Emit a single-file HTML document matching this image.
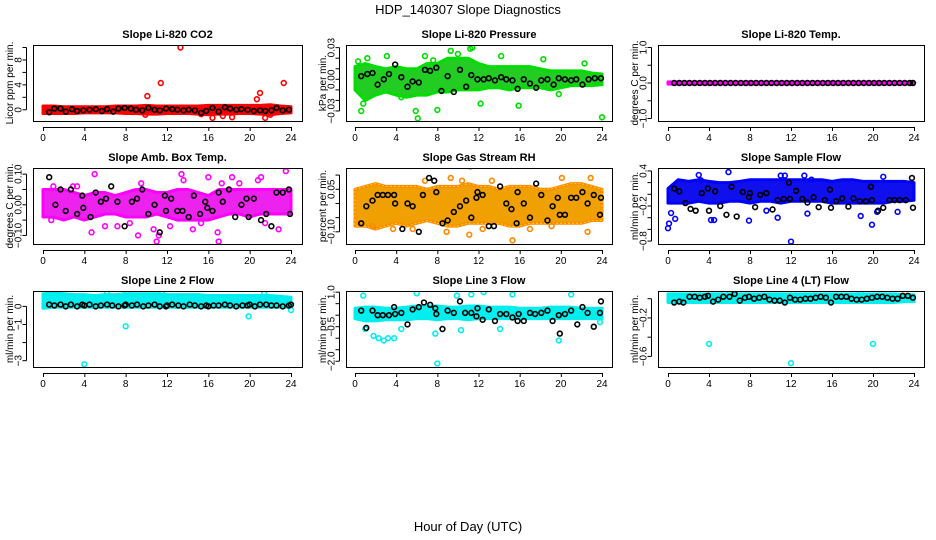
<!DOCTYPE html>
<html><head><meta charset="utf-8"><title>HDP_140307 Slope Diagnostics</title>
<style>
body{margin:0;background:#fff;}
svg{display:block;font-family:"Liberation Sans",sans-serif;}
</style></head>
<body>
<svg id="chart" width="936" height="540" viewBox="0 0 936 540" xmlns="http://www.w3.org/2000/svg">
<rect x="0" y="0" width="936" height="540" fill="#fff"/>
<text x="468" y="14" text-anchor="middle" font-size="13">HDP_140307  Slope Diagnostics</text>
<text x="468" y="531" text-anchor="middle" font-size="13">Hour of Day (UTC)</text>
<g id="panels"></g>
</svg>
<script>
// x ticks shared
const xTicks = [0,4,8,12,16,20,24];
const hours = [0,1,2,3,4,5,6,7,8,9,10,11,12,13,14,15,16,17,18,19,20,21,22,23,24];

// ---- Panel 1: CO2 ----
const co2Upper = [0.6,0.6,0.5,0.5,0.5,0.5,0.5,0.6,0.6,0.6,0.7,0.6,0.6,0.6,0.6,0.6,0.7,0.7,0.7,0.7,0.7,0.7,0.8,0.6,0.5];
const co2Lower = [-0.6,-0.6,-0.6,-0.6,-0.5,-0.5,-0.5,-0.5,-0.6,-0.6,-0.7,-0.7,-0.6,-0.6,-0.6,-0.7,-0.8,-0.7,-0.7,-0.6,-0.6,-0.7,-0.8,-0.6,-0.5];
const co2OutX = [10.1,11.4,13.3,16.4,17.4,18.3,20.7,21.0,21.5,23.3,22.0,9.9,15.3];
const co2OutY = [2.2,4.3,10.0,-1.3,-1.0,-1.2,1.7,2.7,-1.3,4.3,-0.8,-0.8,-0.7];
const co2BlkX = [0.6,1.1,1.7,2.2,2.8,3.3,3.9,4.5,5.1,5.7,6.2,6.8,7.3,7.9,8.5,9.0,9.6,10.2,10.8,11.3,11.9,12.5,13.0,13.6,14.1,14.7,15.3,15.8,16.4,17.0,17.6,18.1,18.7,19.2,19.8,20.4,21.0,21.5,22.1,22.6,23.2,23.8];
const co2BlkY = [-0.4,0.2,0.2,-0.3,0.1,-0.2,-0.1,0.0,0.1,-0.2,0.1,-0.3,0.2,0.3,0.2,0.0,-0.1,0.3,0.0,-0.1,0.2,0.1,0.0,-0.1,0.0,-0.1,-0.5,-0.2,0.3,-0.3,0.4,0.2,0.0,0.1,0.0,-0.2,-0.1,-0.2,-0.1,0.3,-0.1,0.0];

// ---- Panel 2: Pressure ----
const presUpper = [0.012,0.015,0.012,0.010,0.012,0.010,0.010,0.015,0.015,0.020,0.020,0.020,0.015,0.012,0.012,0.012,0.012,0.012,0.010,0.008,0.008,0.008,0.008,0.006,0.005];
const presLower = [-0.010,-0.020,-0.015,-0.012,-0.015,-0.017,-0.015,-0.015,-0.012,-0.012,-0.010,-0.010,-0.010,-0.008,-0.008,-0.010,-0.008,-0.008,-0.008,-0.010,-0.008,-0.006,-0.006,-0.006,-0.005];
const presOutX = [0.6,0.8,5.9,6.1,8.0,12.2,15.9,24.0,9.3,11.2,11.4,14.2,6.8,3.1,1.2,22.3,18.3,10.0,7.6,0.3,4.5,19.8];
const presOutY = [-0.030,-0.023,-0.030,-0.037,-0.029,-0.023,-0.025,-0.036,0.027,0.029,0.030,0.022,0.022,0.022,0.020,0.015,0.019,0.024,0.018,0.017,-0.017,-0.014];
const presBlkX = [0.6,1.2,1.7,2.2,2.8,3.3,3.9,4.5,5.1,5.6,6.2,6.8,7.3,7.9,8.4,9.0,9.6,10.2,10.8,11.3,11.9,12.5,13.0,13.6,14.2,14.7,15.3,15.8,16.4,17.0,17.6,18.1,18.7,19.3,19.8,20.4,21.0,21.5,22.1,22.7,23.3,23.9];
const presBlkY = [0.003,0.005,0.006,-0.005,0.000,0.005,0.014,0.002,-0.007,-0.002,-0.003,0.009,0.008,0.011,-0.011,0.003,-0.012,0.009,-0.007,0.004,0.000,0.000,0.001,-0.001,0.002,0.000,-0.001,-0.009,0.000,-0.004,-0.008,-0.001,0.000,-0.005,0.001,0.000,-0.001,0.000,-0.005,0.000,0.001,0.001];

// ---- Panel 3: Li-820 Temp ----
const tempUpper = [0.03,0.03,0.03,0.03,0.03,0.03,0.03,0.03,0.03,0.03,0.03,0.03,0.03,0.03,0.03,0.03,0.03,0.03,0.03,0.03,0.03,0.03,0.03,0.03,0.03];
const tempLower = [-0.03,-0.03,-0.03,-0.03,-0.03,-0.03,-0.03,-0.03,-0.03,-0.03,-0.03,-0.03,-0.03,-0.03,-0.03,-0.03,-0.03,-0.03,-0.03,-0.03,-0.03,-0.03,-0.03,-0.03,-0.03];
const tempOutX = [];
const tempOutY = [];
const tempBlkX = [0.6,1.1,1.6,2.1,2.6,3.1,3.6,4.1,4.6,5.1,5.6,6.1,6.6,7.1,7.6,8.1,8.6,9.1,9.6,10.1,10.6,11.1,11.6,12.1,12.6,13.1,13.6,14.1,14.6,15.1,15.6,16.1,16.6,17.1,17.6,18.1,18.6,19.1,19.6,20.1,20.6,21.1,21.6,22.1,22.6,23.1,23.6,23.9];
const tempBlkY = [0,0,0,0,0,0,0,0,0,0,0,0,0,0,0,0,0,0,0,0,0,0,0,0,0,0,0,0,0,0,0,0,0,0,0,0,0,0,0,0,0,0,0,0,0,0,0,0];

// ---- Panel 4: Amb Box Temp ----
const ambUpper = [0.05,0.05,0.05,0.04,0.03,0.04,0.04,0.03,0.04,0.05,0.05,0.04,0.04,0.05,0.05,0.04,0.03,0.05,0.05,0.05,0.05,0.05,0.05,0.05,0.05];
const ambLower = [-0.04,-0.04,-0.05,-0.04,-0.05,-0.04,-0.03,-0.03,-0.04,-0.04,-0.04,-0.03,-0.04,-0.05,-0.05,-0.05,-0.05,-0.04,-0.03,-0.03,-0.04,-0.03,-0.03,-0.03,-0.03];
const ambOutX = [5.0,4.7,9.2,10.7,11.2,11.0,13.4,13.6,16.0,16.9,17.0,18.3,19.0,21.1,21.5,22.8,23.5,0.8,3.3,6.0,8.4,14.5,15.3,2.9,12.3,17.3,20.8,1.0,7.2,9.5];
const ambOutY = [0.10,-0.09,-0.10,-0.08,-0.10,-0.12,0.10,0.08,0.09,-0.09,-0.12,0.09,0.07,0.09,-0.06,-0.08,0.11,-0.05,0.06,-0.07,-0.06,-0.08,-0.06,0.06,-0.07,0.07,0.08,0.06,-0.07,0.07];
const ambBlkX = [0.6,1.2,1.7,2.2,2.7,3.3,3.8,3.9,4.6,5.1,5.6,6.1,6.6,7.2,7.9,8.6,9.1,9.6,10.2,10.8,11.3,11.8,11.9,12.4,13.0,13.5,14.1,14.6,15.2,15.7,15.9,16.4,17.0,17.4,18.0,18.6,19.2,19.7,19.9,20.4,21.1,21.6,22.1,22.6,23.2,23.8,23.9];
const ambBlkY = [0.09,0.00,0.05,-0.02,0.05,-0.03,0.03,-0.01,-0.04,0.04,0.01,0.02,0.06,0.01,-0.07,0.01,0.02,0.05,-0.03,0.00,-0.09,0.03,-0.02,0.02,-0.02,-0.02,-0.04,0.03,-0.03,0.01,-0.01,-0.02,0.04,0.01,0.05,-0.04,0.00,0.02,-0.04,0.02,-0.05,-0.03,-0.07,0.04,0.04,0.05,-0.03];

// ---- Panel 5: Gas Stream RH ----
const rhUpper = [0.05,0.06,0.07,0.06,0.06,0.06,0.06,0.05,0.06,0.06,0.06,0.07,0.06,0.06,0.05,0.06,0.06,0.06,0.05,0.05,0.06,0.07,0.07,0.06,0.05];
const rhLower = [-0.08,-0.08,-0.09,-0.08,-0.07,-0.08,-0.07,-0.06,-0.07,-0.08,-0.08,-0.07,-0.07,-0.07,-0.07,-0.08,-0.08,-0.07,-0.07,-0.07,-0.07,-0.07,-0.07,-0.06,-0.06];
const rhOutX = [11.2,15.3,9.3,10.4,13.3,22.9,17.0,22.6,3.7,1.7,5.6,8.9,12.4,19.1,20.1,6.8,11.1];
const rhOutY = [0.13,-0.13,0.09,0.08,0.08,0.09,-0.09,-0.10,-0.09,-0.08,-0.09,-0.10,-0.09,-0.08,0.09,0.08,-0.11];
const rhBlkX = [0.6,1.1,1.7,2.2,2.7,3.2,3.8,3.9,4.6,5.1,5.6,6.2,6.6,7.2,7.7,7.9,8.5,9.0,9.6,10.2,10.8,11.3,11.8,11.9,12.4,13.0,13.5,14.1,14.7,15.2,15.7,15.8,16.4,17.0,17.6,18.1,18.7,19.2,19.7,19.9,20.4,21.0,21.5,22.1,22.6,23.2,23.8,23.9];
const rhBlkY = [-0.07,-0.01,0.01,0.03,0.03,0.03,0.03,0.00,-0.09,0.00,-0.01,-0.10,0.03,0.09,0.08,0.04,-0.07,-0.06,-0.03,-0.01,0.01,-0.05,0.02,0.04,0.03,-0.08,-0.08,0.06,0.00,-0.02,-0.07,0.04,0.00,-0.05,0.07,0.03,-0.06,-0.01,0.02,-0.04,-0.04,0.02,0.02,0.04,0.00,0.03,-0.04,0.02];

// ---- Panel 6: Sample Flow ----
const sfUpper = [0.10,0.25,0.22,0.25,0.22,0.20,0.20,0.22,0.25,0.25,0.25,0.25,0.25,0.25,0.25,0.25,0.22,0.25,0.25,0.22,0.22,0.22,0.22,0.22,0.20];
const sfLower = [-0.15,-0.15,-0.15,-0.12,-0.15,-0.15,-0.12,-0.12,-0.15,-0.12,-0.12,-0.15,-0.12,-0.12,-0.12,-0.12,-0.15,-0.15,-0.15,-0.15,-0.15,-0.15,-0.12,-0.12,-0.10];
const sfOutX = [0.0,0.1,0.3,0.7,3.0,5.9,4.2,4.5,12.0,19.9,18.8,9.6,7.9,3.2,11.0,13.3,21.0,13.6,20.4,10.7,11.4,14.0,22.4];
const sfOutY = [-0.58,-0.50,-0.32,-0.42,0.33,0.38,-0.44,-0.44,-0.81,-0.52,-0.37,-0.28,-0.45,0.24,0.32,0.32,0.30,-0.33,-0.30,-0.40,0.32,0.25,-0.30];
const sfBlkX = [0.6,1.1,1.7,2.2,2.7,3.3,3.9,4.0,4.6,5.1,5.7,6.2,6.7,7.3,7.9,8.0,8.5,9.0,9.6,10.2,10.7,11.3,11.8,11.9,12.5,13.1,13.6,14.2,14.7,15.3,15.8,15.9,16.4,17.0,17.6,18.1,18.7,19.3,19.8,19.9,20.5,21.0,21.6,22.1,22.6,23.2,23.8,23.9];
const sfBlkY = [0.10,0.05,-0.15,-0.25,-0.28,0.02,0.10,-0.28,0.05,-0.20,-0.35,0.13,-0.38,0.04,-0.05,0.02,-0.22,-0.01,0.02,-0.26,-0.10,-0.08,0.20,-0.08,0.06,-0.08,-0.14,-0.05,-0.22,-0.10,0.08,-0.23,-0.12,-0.07,-0.21,-0.07,-0.12,-0.12,0.13,-0.10,-0.28,-0.23,-0.10,-0.10,-0.10,-0.10,0.28,-0.23];

// ---- Panel 7: Line 2 Flow ----
const l2Upper = [0.70,0.75,0.70,0.65,0.65,0.60,0.65,0.65,0.70,0.70,0.70,0.70,0.65,0.65,0.65,0.65,0.60,0.60,0.60,0.60,0.60,0.60,0.60,0.55,0.50];
const l2Lower = [-0.10,-0.05,-0.05,-0.05,-0.05,-0.05,-0.05,-0.05,-0.05,-0.05,-0.05,-0.05,-0.05,-0.05,-0.05,-0.05,-0.05,-0.05,-0.05,-0.05,-0.05,-0.05,-0.05,-0.05,-0.05];
const l2OutX = [4.0,8.0,19.9,24.0,8.1,11.5,6.2,21.4];
const l2OutY = [-3.2,-1.1,-0.55,-0.2,0.75,0.80,0.72,0.72];
const l2BlkX = [0.6,1.1,1.7,2.2,2.7,3.3,3.8,4.0,4.5,5.1,5.6,6.2,6.7,7.3,7.9,8.0,8.6,9.1,9.7,10.2,10.8,11.3,11.9,12.0,12.5,13.1,13.6,14.2,14.7,15.3,15.8,16.0,16.5,17.0,17.6,18.1,18.7,19.3,19.8,20.0,20.5,21.0,21.6,22.1,22.6,23.2,23.8,24.0];
const l2BlkY = [0.10,0.05,0.10,0.00,0.10,0.00,0.10,0.05,0.10,0.00,0.05,0.10,0.05,0.00,0.05,0.10,0.05,0.10,0.00,0.05,0.10,0.00,0.00,0.05,0.10,0.05,0.00,0.10,0.05,0.00,0.05,0.00,0.05,0.05,0.10,0.05,0.00,0.05,0.05,0.10,0.00,0.10,0.10,0.05,0.05,0.00,0.05,0.10];

// ---- Panel 8: Line 3 Flow ----
const l3Upper = [0.30,0.35,0.35,0.30,0.30,0.35,0.40,0.40,0.40,0.35,0.35,0.40,0.40,0.35,0.35,0.35,0.30,0.30,0.30,0.35,0.35,0.35,0.30,0.30,0.30];
const l3Lower = [-0.15,-0.25,-0.25,-0.20,-0.20,-0.20,-0.15,-0.15,-0.20,-0.15,-0.15,-0.20,-0.15,-0.15,-0.15,-0.15,-0.15,-0.15,-0.15,-0.15,-0.15,-0.15,-0.15,-0.15,-0.15];
const l3OutX = [8.0,0.8,2.8,3.2,3.8,1.0,1.8,2.3,7.8,9.9,11.3,12.5,15.3,21.0,23.8,19.8,14.1,10.3,6.0,4.5];
const l3OutY = [-2.1,0.85,-1.1,-1.0,-1.0,-0.6,-0.9,-1.0,-0.8,0.85,0.90,1.00,0.90,0.90,-0.3,-1.1,-0.6,-0.65,0.95,-0.6];
const l3BlkX = [0.6,1.1,1.7,2.2,2.7,3.3,3.8,3.9,4.5,5.1,5.6,6.2,6.7,7.3,7.8,7.9,8.5,9.0,9.6,10.2,10.7,11.3,11.8,11.9,12.4,13.0,13.6,14.1,14.7,15.3,15.8,15.9,16.4,17.0,17.5,18.1,18.7,19.2,19.8,19.9,20.4,21.0,21.6,22.1,22.6,23.2,23.8,23.9];
const l3BlkY = [0.20,-0.55,0.20,0.00,0.00,0.00,0.35,0.05,0.10,-0.40,0.25,0.35,0.55,0.45,0.30,0.05,-0.60,0.20,0.10,0.60,0.10,0.10,-0.05,0.30,-0.20,0.25,-0.25,0.05,0.05,-0.10,-0.25,0.05,-0.25,0.10,0.05,0.10,0.20,-0.25,0.00,-0.80,0.05,0.20,-0.40,0.35,0.10,-0.50,0.10,0.60];

// ---- Panel 9: Line 4 (LT) Flow ----
const l4Upper = [0.05,0.05,0.05,0.05,0.05,0.05,0.05,0.05,0.05,0.05,0.05,0.05,0.05,0.05,0.05,0.05,0.05,0.05,0.05,0.05,0.05,0.05,0.05,0.04,0.04];
const l4Lower = [-0.04,-0.04,-0.04,-0.04,-0.04,-0.04,-0.04,-0.04,-0.04,-0.04,-0.04,-0.04,-0.04,-0.04,-0.04,-0.04,-0.04,-0.04,-0.04,-0.04,-0.04,-0.04,-0.04,-0.03,-0.03];
const l4OutX = [4.0,20.0,12.0,6.0,18.8];
const l4OutY = [-0.47,-0.47,-0.67,0.06,0.06];
const l4BlkX = [0.6,1.1,1.5,2.1,2.6,3.1,3.6,3.9,4.4,4.9,5.4,6.0,6.5,7.0,7.5,7.9,8.4,8.9,9.4,9.9,10.4,10.9,11.4,11.9,12.4,12.9,13.4,13.9,14.4,14.9,15.4,15.9,16.4,16.9,17.4,17.9,18.4,18.9,19.4,19.9,20.4,20.9,21.4,21.9,22.4,22.9,23.4,23.9];
const l4BlkY = [-0.04,-0.03,-0.04,0.02,0.02,0.01,0.02,0.03,-0.03,-0.01,0.02,0.02,0.05,-0.02,0.01,0.02,0.00,0.01,0.02,-0.01,-0.02,-0.02,-0.04,0.01,-0.01,-0.01,0.00,0.00,0.01,0.02,0.01,-0.04,0.02,0.02,0.02,0.00,-0.01,-0.01,0.00,0.01,0.02,0.02,0.01,0.00,0.00,0.03,0.03,0.01];

const panels = [
 {name:'co2',title:'Slope Li-820 CO2',ylab:'Licor ppm per min.',col:0,row:0,ymin:-1.8,ymax:10.4,ticks:[0,2,4,6,8,10],labels:[0,4,8],fmt:0,color:'#ff0000',band:'#ee0000',up:co2Upper,lo:co2Lower,ox:co2OutX,oy:co2OutY,bx:co2BlkX,by:co2BlkY},
 {name:'pressure',title:'Slope Li-820 Pressure',ylab:'kPa per min.',col:1,row:0,ymin:-0.0395,ymax:0.0325,ticks:[-0.03,-0.02,-0.01,0,0.01,0.02,0.03],labels:[-0.03,0,0.03],fmt:2,color:'#00dd00',band:'#22cc22',up:presUpper,lo:presLower,ox:presOutX,oy:presOutY,bx:presBlkX,by:presBlkY},
 {name:'li820-temp',title:'Slope Li-820 Temp.',ylab:'degrees C per min.',col:2,row:0,ymin:-1.07,ymax:1.07,ticks:[-1,-0.5,0,0.5,1],labels:[-1,0,1],fmt:1,color:'#ff00ff',band:'#ff00ff',up:tempUpper,lo:tempLower,ox:tempOutX,oy:tempOutY,bx:tempBlkX,by:tempBlkY},
 {name:'amb-box-temp',title:'Slope Amb. Box Temp.',ylab:'degrees C per min.',col:0,row:1,ymin:-0.128,ymax:0.12,ticks:[-0.1,-0.05,0,0.05,0.1],labels:[-0.1,0,0.1],fmt:2,color:'#ff00ff',band:'#ee22ee',up:ambUpper,lo:ambLower,ox:ambOutX,oy:ambOutY,bx:ambBlkX,by:ambBlkY},
 {name:'gas-stream-rh',title:'Slope Gas Stream RH',ylab:'percent per min.',col:1,row:1,ymin:-0.143,ymax:0.125,ticks:[-0.1,-0.05,0,0.05,0.1],labels:[-0.1,0.05],fmt:2,color:'#ff8800',band:'#f0a000',up:rhUpper,lo:rhLower,ox:rhOutX,oy:rhOutY,bx:rhBlkX,by:rhBlkY},
 {name:'sample-flow',title:'Slope Sample Flow',ylab:'ml/min per min.',col:2,row:1,ymin:-0.85,ymax:0.45,ticks:[-0.8,-0.6,-0.4,-0.2,0,0.2,0.4],labels:[-0.8,-0.2,0.4],fmt:1,color:'#0000ff',band:'#1010ee',up:sfUpper,lo:sfLower,ox:sfOutX,oy:sfOutY,bx:sfBlkX,by:sfBlkY},
 {name:'line2-flow',title:'Slope Line 2 Flow',ylab:'ml/min per min.',col:0,row:2,ymin:-3.35,ymax:0.85,ticks:[-3,-2,-1,0],labels:[-3,-1,0],fmt:0,color:'#00eeee',band:'#00f0f0',up:l2Upper,lo:l2Lower,ox:l2OutX,oy:l2OutY,bx:l2BlkX,by:l2BlkY},
 {name:'line3-flow',title:'Slope Line 3 Flow',ylab:'ml/min per min.',col:1,row:2,ymin:-2.25,ymax:1.05,ticks:[-2,-1.5,-1,-0.5,0,0.5,1],labels:[-2,-0.5,1],fmt:1,color:'#00eeee',band:'#00f0f0',up:l3Upper,lo:l3Lower,ox:l3OutX,oy:l3OutY,bx:l3BlkX,by:l3BlkY},
 {name:'line4-flow',title:'Slope Line 4 (LT) Flow',ylab:'ml/min per min.',col:2,row:2,ymin:-0.71,ymax:0.08,ticks:[-0.6,-0.4,-0.2,0],labels:[-0.6,-0.2],fmt:1,color:'#00eeee',band:'#00f0f0',up:l4Upper,lo:l4Lower,ox:l4OutX,oy:l4OutY,bx:l4BlkX,by:l4BlkY}
];

const NS='http://www.w3.org/2000/svg';
const colBox=[[33,302],[346,612],[658,924]];
const colX=[[43,291],[355,602],[668,914]];
const rowBox=[[45,121],[168,244],[291,367]];
function mk(tag,attrs,parent){const e=document.createElementNS(NS,tag);for(const k in attrs)e.setAttribute(k,attrs[k]);parent.appendChild(e);return e;}
function fmtNum(v,d){let s=v.toFixed(d);if(v<0)s='\u2212'+s.slice(1);return s;}
const root=document.getElementById('panels');
panels.forEach(p=>{
  const [bx0,bx1]=colBox[p.col];const [by0,by1]=rowBox[p.row];const [x0,x24]=colX[p.col];
  const xs=h=>x0+(x24-x0)*h/24;
  const ys=v=>by1-(v-p.ymin)/(p.ymax-p.ymin)*(by1-by0);
  const g=mk('g',{},root);
  
  
  const t=mk('text',{x:(bx0+bx1)/2,y:by0-7,'text-anchor':'middle','font-size':'11','font-weight':'bold'},g);t.textContent=p.title;
  
  
  const yl=mk('text',{x:0,y:0,'text-anchor':'middle','font-size':'10',transform:`translate(${bx0-20},${(by0+by1)/2}) rotate(-90)`},g);yl.textContent=p.ylab;
  
  
  const clip='clip-'+p.name;
  const cp=mk('clipPath',{id:clip},g);mk('rect',{x:bx0,y:by0,width:bx1-bx0,height:by1-by0},cp);
  const pg=mk('g',{'clip-path':`url(#${clip})`},g);
  // dense band
  let pts=[];hours.forEach((h,i)=>pts.push(xs(h).toFixed(1)+','+ys(p.up[i]).toFixed(1)));
  for(let i=hours.length-1;i>=0;i--)pts.push(xs(hours[i]).toFixed(1)+','+ys(p.lo[i]).toFixed(1));
  const band=mk('polygon',{points:pts.join(' '),fill:p.band,stroke:p.color,'stroke-width':'3','stroke-linejoin':'round'},pg);
  
  
  if(p.name==='gas-stream-rh'){const ov=mk('polygon',{points:pts.join(' '),fill:'none',stroke:'#ffdd00','stroke-width':'1','stroke-dasharray':'2 2'},pg);}
  p.ox.forEach((h,i)=>{const c=mk('circle',{cx:xs(h),cy:ys(p.oy[i]),r:2.4,fill:'none',stroke:p.color,'stroke-width':1.6},pg);
    
    });
  p.bx.forEach((h,i)=>{const c=mk('circle',{cx:xs(h),cy:ys(p.by[i]),r:2.4,fill:'none',stroke:'#000','stroke-width':1.6},pg);
    
    });
  const box=mk('rect',{x:bx0+0.5,y:by0+0.5,width:bx1-bx0,height:by1-by0,fill:'none',stroke:'#000','stroke-width':1},g);
  
  
  // x axis
  mk('line',{x1:x0,x2:x24,y1:by1+6.5,y2:by1+6.5,stroke:'#000'},g);
  xTicks.forEach(h=>{mk('line',{x1:xs(h)+.5,x2:xs(h)+.5,y1:by1+6,y2:by1+10,stroke:'#000'},g);
    const tl=mk('text',{x:xs(h),y:by1+20,'text-anchor':'middle','font-size':'10'},g);tl.textContent=h;
    
    });
  // y axis
  const ax=bx0-6.5;
  mk('line',{x1:ax,x2:ax,y1:ys(p.ticks[0]),y2:ys(p.ticks[p.ticks.length-1]),stroke:'#000'},g);
  p.ticks.forEach(v=>mk('line',{x1:ax-4,x2:ax,y1:ys(v),y2:ys(v),stroke:'#000'},g));
  p.labels.forEach(v=>{const tl=mk('text',{x:0,y:0,'text-anchor':'middle','font-size':'10',transform:`translate(${ax-5},${ys(v)}) rotate(-90)`},g);tl.textContent=fmtNum(v,p.fmt);
    
    });
});
</script>
</body></html>
